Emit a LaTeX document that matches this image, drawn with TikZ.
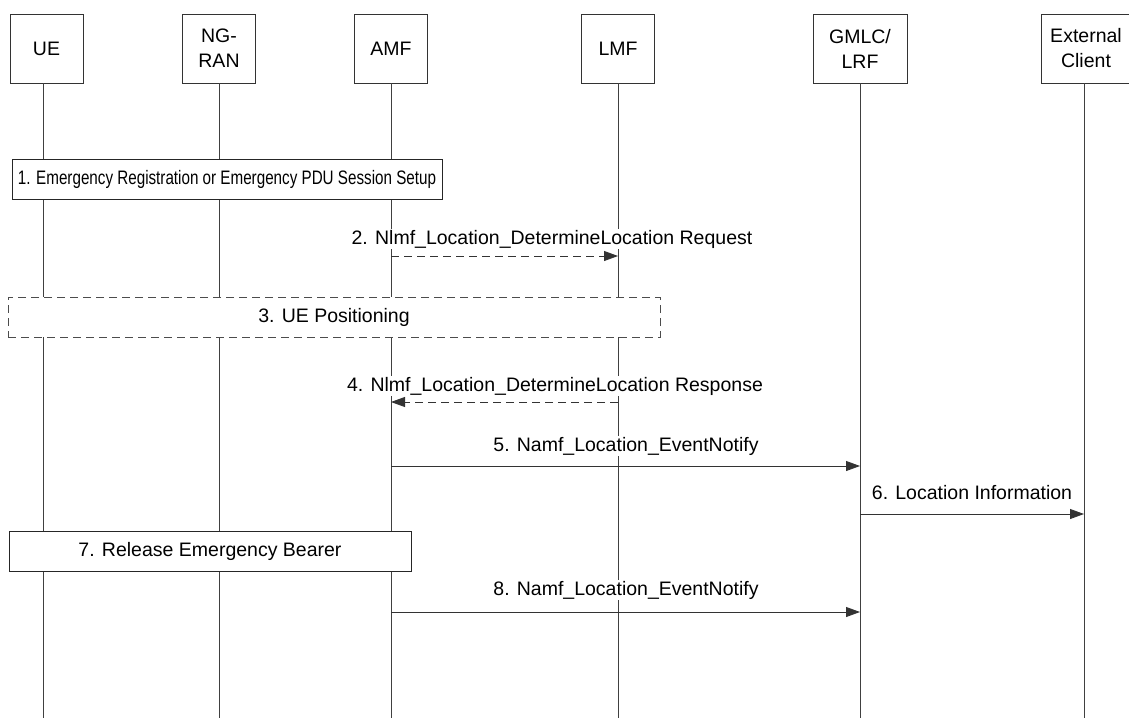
\documentclass[tikz,border=0pt]{standalone}
\usepackage{fontspec}
\setmainfont{Liberation Sans}
\usetikzlibrary{arrows.meta}
\begin{document}
\begin{tikzpicture}[x=1pt,y=-1pt,
  every node/.style={font=\fontsize{19.5}{25}\selectfont},
  hdr/.style={draw=black!80, line width=0.8pt, fill=white, align=center, minimum height=69pt, inner sep=0pt},
  life/.style={draw=black!75, line width=0.8pt},
  stepbox/.style={draw=black!85, line width=0.8pt, fill=white, minimum height=40pt, inner sep=0pt},
  dashbox/.style={stepbox, dash pattern=on 8pt off 5pt, draw=black!70},
  msg/.style={draw=black!80, line width=0.8pt, -{Triangle[length=14pt,width=10pt]}},
  dmsg/.style={msg, dash pattern=on 8pt off 5pt},
  lbl/.style={fill=white, inner sep=1pt}]
\useasboundingbox (0,0) rectangle (1129,718);
% header boxes
\node[hdr, minimum width=73pt] (ue) at (46.5,48.5) {UE};
\node[hdr, minimum width=73pt] (ran) at (219,48.5) {NG-\\RAN};
\node[hdr, minimum width=73pt] (amf) at (391,48.5) {AMF};
\node[hdr, minimum width=73pt] (lmf) at (618,48.5) {LMF};
\node[hdr, minimum width=94pt] (gmlc) at (860,48.5) {GMLC/\\LRF};
\node[hdr, minimum width=90pt] (ext) at (1086,48.5) {External\\Client};
% lifeline ends
\coordinate (ueB) at (43,718);
\coordinate (ranB) at (219,718);
\coordinate (amfB) at (391,718);
\coordinate (lmfB) at (618,718);
\coordinate (gmlcB) at (860,718);
\coordinate (extB) at (1084,718);
\draw[life] (43,83) -- (ueB);
\draw[life] (ran.south) -- (ranB);
\draw[life] (amf.south) -- (amfB);
\draw[life] (lmf.south) -- (lmfB);
\draw[life] (gmlc.south) -- (gmlcB);
\draw[life] (1084,83) -- (extB);
% step boxes
\node[stepbox, minimum width=430pt] (s1) at (227,179) {\scalebox{0.78}[1]{1. Emergency Registration or Emergency PDU Session Setup}};
\node[dashbox, minimum width=652pt] (s3) at (334,317) {3. UE Positioning};
\node[stepbox, minimum width=402pt] (s7) at (210,551) {7. Release Emergency Bearer};
% message endpoints
\coordinate (m2a) at (391,256); \coordinate (m2b) at (618,256);
\coordinate (m4a) at (618,402); \coordinate (m4b) at (391,402);
\coordinate (m5a) at (391,466); \coordinate (m5b) at (860,466);
\coordinate (m6a) at (860,514); \coordinate (m6b) at (1084,514);
\coordinate (m8a) at (391,612); \coordinate (m8b) at (860,612);
% messages
\draw[dmsg] (m2a) -- (m2b);
\draw[dmsg] (m4a) -- (m4b);
\draw[msg] (m5a) -- (m5b);
\draw[msg] (m6a) -- (m6b);
\draw[msg] (m8a) -- (m8b);
% labels
\node[lbl] (l2) at (552,239) {2. Nlmf\_Location\_DetermineLocation Request};
\node[lbl] (l4) at (555,386) {4. Nlmf\_Location\_DetermineLocation Response};
\node[lbl] (l5) at (626,446) {5. Namf\_Location\_EventNotify};
\node[lbl] (l6) at (972,493) {6. Location Information};
\node[lbl] (l8) at (626,590) {8. Namf\_Location\_EventNotify};
\end{tikzpicture}
\end{document}
